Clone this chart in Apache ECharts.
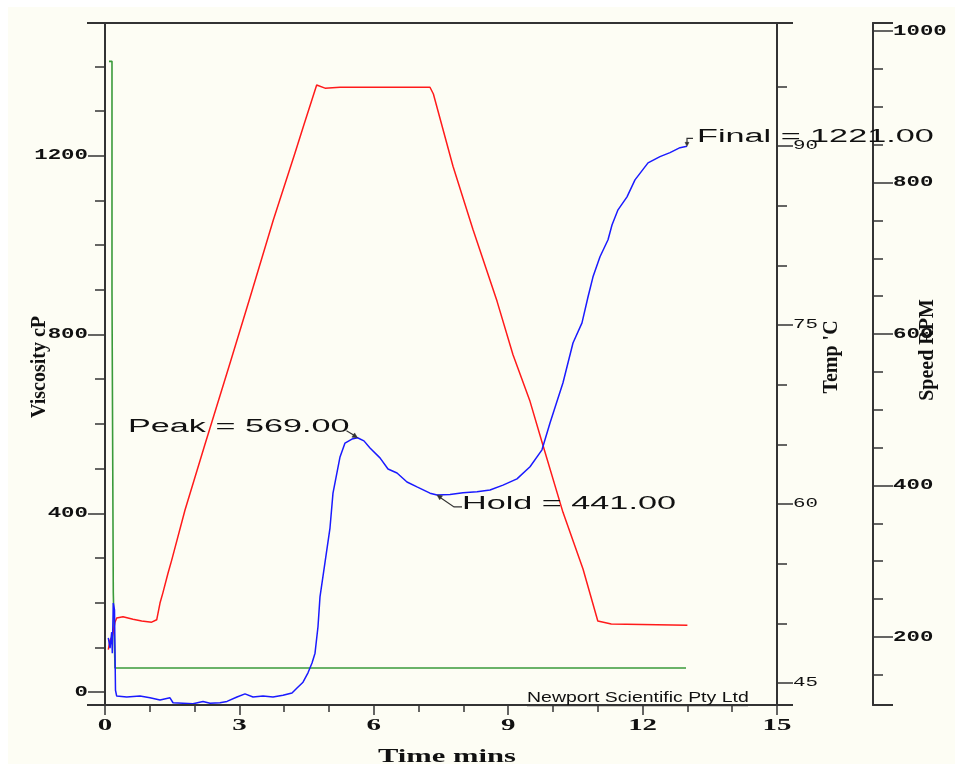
<!DOCTYPE html>
<html>
<head>
<meta charset="utf-8">
<script src="https://cdn.jsdelivr.net/npm/echarts@6/dist/echarts.min.js"></script>
<style>
  html, body { margin: 0; padding: 0; background: #ffffff; }
  #paper { position: absolute; left: 8px; top: 7px; width: 947px; height: 757px; background: #fdfdf4; }
  #chart { position: absolute; left: 0; top: 0; width: 955px; height: 764px; }
</style>
</head>
<body>
<div id="paper"></div>
<div id="chart"></div>
<script>
// RVA pasting run: time (min) against viscosity, temperature and paddle speed
const viscosityCp = [
  [0.074, 121], [0.112, 98], [0.150, 134], [0.163, 87], [0.185, 199], [0.212, 184], [0.234, 4], [0.261, -9],
  [0.484, -11], [0.781, -9], [1.004, -13], [1.228, -18], [1.451, -13], [1.518, -24], [1.741, -25], [1.964, -26],
  [2.188, -21], [2.344, -25], [2.567, -24], [2.723, -21], [2.946, -11], [3.125, -4], [3.304, -11], [3.527, -9],
  [3.750, -11], [3.973, -7], [4.174, -2], [4.286, 9], [4.420, 22], [4.531, 43], [4.621, 65], [4.688, 87],
  [4.754, 146], [4.799, 213], [5.022, 367], [5.089, 445], [5.246, 526], [5.357, 557], [5.513, 566], [5.636, 569],
  [5.780, 562], [5.915, 546], [6.138, 524], [6.317, 499], [6.518, 490], [6.741, 470], [6.964, 459], [7.254, 445],
  [7.411, 441], [7.701, 442], [7.991, 446], [8.304, 448], [8.594, 452], [8.884, 463], [9.196, 477], [9.487, 504],
  [9.754, 542], [9.933, 602], [10.223, 692], [10.446, 781], [10.647, 826], [10.781, 884], [10.893, 929], [11.049, 974],
  [11.228, 1012], [11.317, 1045], [11.451, 1079], [11.652, 1108], [11.830, 1146], [12.121, 1184], [12.388, 1198],
  [12.612, 1207], [12.835, 1218], [12.991, 1221]
];

const temperatureC = [
  [0.074, 47.8], [0.112, 48.6], [0.163, 48.9], [0.223, 50.1], [0.261, 50.45], [0.402, 50.55], [0.625, 50.35],
  [0.819, 50.2], [1.042, 50.1], [1.154, 50.3], [1.228, 51.7], [1.295, 52.6], [1.406, 54.2], [1.489, 55.3],
  [1.786, 59.5], [2.232, 65.0], [2.790, 71.8], [3.237, 77.3], [3.757, 83.8], [4.241, 89.4], [4.426, 91.6],
  [4.725, 95.1], [4.761, 95.2], [4.911, 94.84], [5.246, 94.92], [7.254, 94.92], [7.330, 94.35], [7.768, 88.3],
  [8.214, 83.0], [8.750, 77.0], [9.107, 72.5], [9.487, 68.6], [9.754, 65.2], [10.223, 59.3], [10.670, 54.55],
  [11.000, 50.2], [11.300, 49.95], [13.000, 49.85]
];

const speedRpm = [
  [0.089, 960], [0.156, 960], [0.156, 658], [0.185, 658], [0.185, 259], [0.223, 259], [0.223, 159], [12.969, 159]
];

// Named points on the viscosity trace
const annotations = [
  { name: 'Peak', time: 5.636, value: 569 },
  { name: 'Hold', time: 7.411, value: 441 },
  { name: 'Final', time: 12.991, value: 1221 }
];

// Tick labels
const timeTickLabels = [0, 3, 6, 9, 12, 15];
const viscTickLabels = [0, 400, 800, 1200];
const viscMinorTicks = [100, 200, 300, 500, 600, 700, 900, 1000, 1100, 1300, 1400];
const tempTickLabels = [45, 60, 75, 90];
const tempMinorTicks = [50, 55, 65, 70, 80, 85, 95];
const speedTickLabels = [200, 400, 600, 800, 1000];
const speedMinorTicks = [150, 250, 300, 350, 450, 500, 550, 650, 700, 750, 850, 900, 950];

const AXIS = '#333333';
const INK = '#111111';

function yAxisDef(min, max, position, offset, ticks, len) {
  return {
    type: 'value', min: min, max: max, position: position, offset: offset,
    axisLine: { show: true, onZero: false, lineStyle: { color: AXIS, width: 2 } },
    axisTick: { show: true, inside: false, customValues: ticks, length: len, lineStyle: { color: AXIS, width: 1.5 } },
    axisLabel: { show: false },
    splitLine: { show: false }
  };
}

const chart = echarts.init(document.getElementById('chart'), null, { renderer: 'canvas' });

chart.setOption({
  animation: false,
  backgroundColor: 'transparent',
  grid: { left: 105, right: 178, top: 23, bottom: 59, containLabel: false },
  xAxis: [
    {
      type: 'value', min: 0, max: 15, interval: 3, position: 'bottom',
      axisLine: { show: true, onZero: false, lineStyle: { color: AXIS, width: 2 } },
      axisTick: { show: true, length: 10, lineStyle: { color: AXIS, width: 1.5 } },
      minorTick: { show: true, splitNumber: 3, length: 7, lineStyle: { color: AXIS, width: 1.5 } },
      axisLabel: { show: false },
      splitLine: { show: false },
      minorSplitLine: { show: false }
    },
    {
      type: 'value', min: 0, max: 15, position: 'top',
      axisLine: { show: true, onZero: false, lineStyle: { color: AXIS, width: 2 } },
      axisTick: { show: false }, axisLabel: { show: false }, splitLine: { show: false }
    }
  ],
  yAxis: [
    yAxisDef(-29, 1497, 'left', 0, viscTickLabels, 17),
    yAxisDef(-29, 1497, 'left', 0, viscMinorTicks, 10),
    yAxisDef(43.16, 100.3, 'right', 0, tempTickLabels, 16),
    yAxisDef(43.16, 100.3, 'right', 0, tempMinorTicks, 10),
    yAxisDef(110.2, 1010.6, 'right', 96, speedTickLabels, 20),
    yAxisDef(110.2, 1010.6, 'right', 96, speedMinorTicks, 10)
  ],
  series: [
    {
      name: 'Speed RPM', type: 'line', xAxisIndex: 0, yAxisIndex: 4, data: speedRpm,
      showSymbol: false, lineStyle: { color: '#3a9a3a', width: 1.6 }, silent: true, z: 2
    },
    {
      name: "Temp 'C", type: 'line', xAxisIndex: 0, yAxisIndex: 2, data: temperatureC,
      showSymbol: false, lineStyle: { color: '#ff1a1a', width: 1.5 }, silent: true, z: 3
    },
    {
      name: 'Viscosity cP', type: 'line', xAxisIndex: 0, yAxisIndex: 0, data: viscosityCp,
      showSymbol: false, lineStyle: { color: '#1a1aff', width: 1.5 }, silent: true, z: 4
    }
  ]
});

// Axis labels, titles and annotations are stretched horizontally, so they are drawn as graphic text
const gx = (t) => chart.convertToPixel({ xAxisIndex: 0 }, t);
const gy = (axis, v) => chart.convertToPixel({ yAxisIndex: axis }, v);

function label(text, x, y, font, align, vAlign, sx, extra) {
  return Object.assign({
    type: 'text', x: x, y: y, scaleX: sx, scaleY: 1, z: 100,
    style: {
      text: String(text), font: font, fill: INK,
      align: align, textAlign: align, verticalAlign: vAlign, textVerticalAlign: vAlign
    }
  }, extra || {});
}

function line(points, width) {
  return { type: 'polyline', z: 90, shape: { points: points }, style: { stroke: AXIS, lineWidth: width || 1.5, fill: null } };
}

function arrowHead(tip, from, size) {
  const dx = tip[0] - from[0], dy = tip[1] - from[1];
  const len = Math.sqrt(dx * dx + dy * dy) || 1;
  const ux = dx / len, uy = dy / len;
  const bx = tip[0] - ux * size, by = tip[1] - uy * size;
  return {
    type: 'polygon', z: 91,
    shape: { points: [tip, [bx - uy * size * 0.5, by + ux * size * 0.5], [bx + uy * size * 0.5, by - ux * size * 0.5]] },
    style: { fill: AXIS, stroke: AXIS, lineWidth: 0.5 }
  };
}

const x0 = gx(0), xEnd = gx(15);
const yTop = gy(0, 1497), yBot = gy(0, -29);
const xSpeed = xEnd + 96;
const graphics = [];

// frame caps reaching past the axes
graphics.push(line([[x0 - 18, yTop], [xEnd + 16, yTop]], 2));
graphics.push(line([[x0 - 18, yBot], [xEnd + 16, yBot]], 2));
graphics.push(line([[xSpeed, yTop], [xSpeed + 20, yTop]], 2));
graphics.push(line([[xSpeed, yBot], [xSpeed + 20, yBot]], 2));

const tickFont = 'bold 14px "Liberation Mono"';
viscTickLabels.forEach(v => graphics.push(label(v, x0 - 17, gy(0, v), tickFont, 'right', 'middle', 1.6)));
tempTickLabels.forEach(v => graphics.push(label(v, xEnd + 16, gy(2, v), '13px "Liberation Mono"', 'left', 'middle', 1.6)));
speedTickLabels.forEach(v => graphics.push(label(v, xSpeed + 20, gy(4, v), tickFont, 'left', 'middle', 1.6)));
timeTickLabels.forEach(t => graphics.push(label(t, gx(t), yBot + 21, 'bold 17px "Liberation Serif"', 'center', 'middle', 1.7)));

// axis titles
graphics.push(label('Time mins', 447, yBot + 52, 'bold 18px "Liberation Serif"', 'center', 'middle', 1.7));
graphics.push(label('Viscosity cP', 40, 367, 'bold 20px "Liberation Serif"', 'center', 'middle', 1, { rotation: Math.PI / 2 }));
graphics.push(label("Temp 'C", 832, 357, 'bold 20px "Liberation Serif"', 'center', 'middle', 1, { rotation: Math.PI / 2 }));
graphics.push(label('Speed RPM', 928, 350, 'bold 20px "Liberation Serif"', 'center', 'middle', 1, { rotation: Math.PI / 2 }));

// instrument maker imprint
graphics.push(label('Newport Scientific Pty Ltd', 527, 698, '14px "Liberation Sans"', 'left', 'middle', 1.39));
graphics.push(line([[527, 705.5], [748, 705.5]], 1.5));

// Peak / Hold / Final call-outs
const annFont = '18px "Liberation Sans"';
const annScale = 1.9;
annotations.forEach(a => {
  const px = gx(a.time), py = gy(0, a.value);
  const text = a.name + ' = ' + a.value.toFixed(2);
  if (a.name === 'Peak') {
    graphics.push(label(text, px - 8, py - 10.5, annFont, 'right', 'middle', annScale));
    graphics.push(line([[px - 11, py - 7], [px - 1, py - 1]], 1.2));
    graphics.push(arrowHead([px, py], [px - 11, py - 7], 5));
  } else if (a.name === 'Hold') {
    graphics.push(label(text, px + 25, py + 9.5, annFont, 'left', 'middle', annScale));
    graphics.push(line([[px + 25, py + 12], [px + 17, py + 12], [px + 1, py + 1]], 1.2));
    graphics.push(arrowHead([px, py], [px + 17, py + 12], 5));
  } else {
    graphics.push(label(text, px + 10, py - 9.5, annFont, 'left', 'middle', annScale));
    graphics.push(line([[px + 6, py - 8], [px, py - 8], [px, py - 2]], 1.2));
    graphics.push(arrowHead([px, py], [px, py - 6], 4));
  }
});

chart.setOption({ graphic: { elements: graphics } });
</script>
</body>
</html>
